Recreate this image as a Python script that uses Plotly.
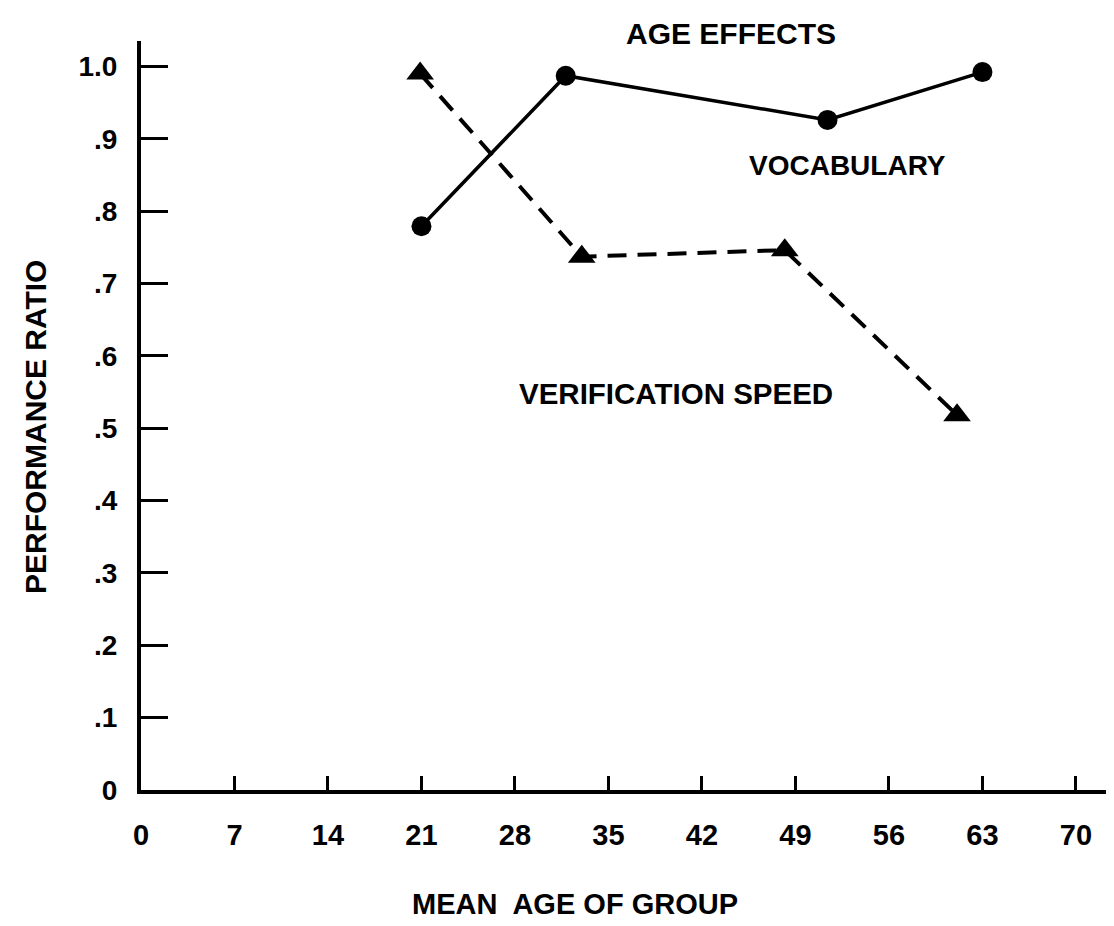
import plotly.graph_objects as go

# ---- data ----
vocab_age = [21, 31.8, 51.4, 63]
vocab_ratio = [0.779, 0.987, 0.926, 0.992]

verif_age = [20.9, 33.0, 48.2, 61.1]
verif_ratio = [0.990, 0.737, 0.746, 0.518]

x_ticks = [0, 7, 14, 21, 28, 35, 42, 49, 56, 63, 70]
y_tickvals = [0, 0.1, 0.2, 0.3, 0.4, 0.5, 0.6, 0.7, 0.8, 0.9, 1.0]
y_ticktext = ["0", ".1", ".2", ".3", ".4", ".5", ".6", ".7", ".8", ".9", "1.0"]

FONT = "Liberation Sans, Arial, Helvetica, sans-serif"

fig = go.Figure()
fig.add_trace(go.Scatter(
    x=vocab_age, y=vocab_ratio, mode="lines+markers", name="VOCABULARY",
    line=dict(color="black", width=3.5),
    marker=dict(symbol="circle", size=20, color="black"),
    cliponaxis=False,
))
fig.add_trace(go.Scatter(
    x=verif_age, y=verif_ratio, mode="lines+markers", name="VERIFICATION SPEED",
    line=dict(color="black", width=4, dash="19px,11px"),
    marker=dict(symbol="triangle-up", size=24, color="black"),
    cliponaxis=False,
))

W, H = 1114, 926
L, R, T, B = 133, 0, 33, 144

fig.update_layout(
    width=W, height=H,
    margin=dict(l=L, r=R, t=T, b=B),
    paper_bgcolor="white", plot_bgcolor="white",
    showlegend=False,
    font=dict(family=FONT, size=29, color="black", weight="bold"),
    xaxis=dict(
        range=[0, 73.45], showgrid=False, zeroline=False,
        showline=True, linecolor="black", linewidth=4,
        ticks="inside", ticklen=14, tickwidth=3, tickcolor="black",
        tickvals=x_ticks, ticktext=[str(v) for v in x_ticks],
        ticklabelstandoff=16,
        tickfont=dict(family=FONT, size=29, weight="bold"),
    ),
    yaxis=dict(
        range=[0, 1.035], showgrid=False, zeroline=False,
        showline=True, linecolor="black", linewidth=4,
        ticks="inside", ticklen=27, tickwidth=3, tickcolor="black",
        tickvals=y_tickvals, ticktext=y_ticktext,
        ticklabelstandoff=14,
        tickfont=dict(family=FONT, size=28, weight="bold"),
    ),
)

pw = W - L - R
ph = H - T - B

def px(xp):
    return (xp - L) / pw

def py(yp):
    return (H - B - yp) / ph

texts = [
    ("AGE EFFECTS", 723, 25, 0, 30),
    ("VOCABULARY", 839, 157, 0, 28),
    ("VERIFICATION SPEED", 668, 385, 0, 29.5),
    ("MEAN  AGE OF GROUP", 567, 896, 0, 29),
    ("PERFORMANCE RATIO", 27, 419, -90, 30),
]
for t, x, y, ang, sz in texts:
    fig.add_annotation(
        text=t, x=px(x), y=py(y), xref="paper", yref="paper",
        xanchor="center", yanchor="middle", showarrow=False,
        textangle=ang,
        font=dict(family=FONT, size=sz, color="black", weight="bold"),
    )

fig.write_html("out.html")
